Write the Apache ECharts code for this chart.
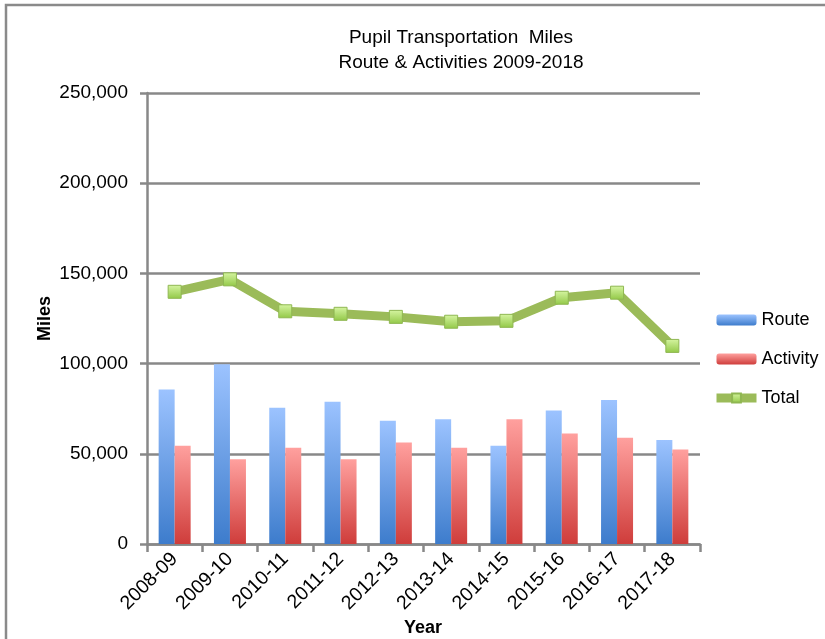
<!DOCTYPE html>
<html>
<head>
<meta charset="utf-8">
<script src="https://cdn.jsdelivr.net/npm/echarts@6/dist/echarts.min.js"></script>
<style>html,body{margin:0;padding:0;background:#fff;}#c{width:825px;height:639px;}</style>
</head>
<body>
<div id="c"></div>
<script>
var categories = ['2008-09','2009-10','2010-11','2011-12','2012-13','2013-14','2014-15','2015-16','2016-17','2017-18'];
var routeMiles = [85600, 99700, 75500, 78900, 68300, 69200, 54400, 74000, 79800, 57600];
var activityMiles = [54400, 47000, 53300, 47000, 56200, 53300, 69200, 61200, 58900, 52400];
var totalMiles = [139800, 146700, 129000, 127600, 125900, 123200, 123700, 136500, 139300, 109800];
var yTicks = [0, 50000, 100000, 150000, 200000, 250000];

var FONT = 'Liberation Sans';
var chart = echarts.init(document.getElementById('c'), null, {renderer: 'canvas'});
function grad(top, bottom) {
  return new echarts.graphic.LinearGradient(0, 0, 0, 1, [{offset: 0, color: top}, {offset: 1, color: bottom}]);
}
var gridColor = '#888888';
chart.setOption({
  animation: false,
  backgroundColor: '#ffffff',
  textStyle: {fontFamily: FONT},
  graphic: [{
    type: 'rect', shape: {x: 6, y: 5, width: 900, height: 700},
    style: {fill: 'none', stroke: '#8a8a8a', lineWidth: 2.5}, z: 0, silent: true
  }, {
    type: 'text', x: 423, y: 628, z: 10, silent: true,
    style: {text: 'Year', font: 'bold 18px "Liberation Sans"', fill: '#000', textAlign: 'center', textVerticalAlign: 'middle'}
  }],
  title: {
    text: 'Pupil Transportation  Miles\nRoute & Activities 2009-2018',
    left: 456, top: 20, textAlign: 'center',
    textStyle: {fontFamily: FONT, fontSize: 19, fontWeight: 'normal', color: '#000', lineHeight: 25}
  },
  legend: {
    orient: 'vertical', left: 707, top: 306,
    itemWidth: 40, itemHeight: 11, itemGap: 21,
    textStyle: {fontFamily: FONT, fontSize: 18, color: '#000'},
    data: ['Route', 'Activity', {name: 'Total', lineStyle: {width: 9}}]
  },
  grid: {left: 147, right: 125, top: 93, bottom: 95, containLabel: false, outerBoundsMode: 'none'},
  xAxis: {
    type: 'category', data: categories,
    axisLine: {lineStyle: {color: gridColor, width: 2.5}},
    axisTick: {show: true, length: 8, lineStyle: {color: gridColor, width: 2.5}},
    axisLabel: {rotate: 45, fontFamily: FONT, fontSize: 19.5, color: '#000', margin: 12, interval: 0}
  },
  yAxis: {
    type: 'value', min: 0, max: 250000, interval: 50000,
    name: 'Miles', nameLocation: 'middle', nameGap: 93, nameRotate: 90, nameMoveOverlap: false,
    nameTextStyle: {fontFamily: FONT, fontSize: 18, fontWeight: 'bold', color: '#000'},
    axisLine: {show: true, lineStyle: {color: gridColor, width: 2.5}},
    axisTick: {show: true, length: 7, lineStyle: {color: gridColor, width: 2.5}},
    splitLine: {lineStyle: {color: gridColor, width: 2.5}},
    axisLabel: {
      fontFamily: FONT, fontSize: 19, color: '#000', margin: 19,
      formatter: function (v) { return yTicks.indexOf(v) >= 0 ? v.toLocaleString('en-US') : ''; }
    }
  },
  series: [
    {
      name: 'Route', type: 'bar', data: routeMiles, barWidth: 16, barGap: '0%',
      itemStyle: {color: grad('#9cc3ff', '#3d7ccc')}
    },
    {
      name: 'Activity', type: 'bar', data: activityMiles, barWidth: 16,
      itemStyle: {color: grad('#ffa09e', '#cf3d3b')}
    },
    {
      name: 'Total', type: 'line', data: totalMiles, z: 5,
      lineStyle: {color: '#9bbb59', width: 9},
      symbol: 'rect', symbolSize: 13,
      itemStyle: {color: grad('#d6f5a2', '#92c847'), borderColor: '#8fb752', borderWidth: 1}
    }
  ]
});
</script>
</body>
</html>
